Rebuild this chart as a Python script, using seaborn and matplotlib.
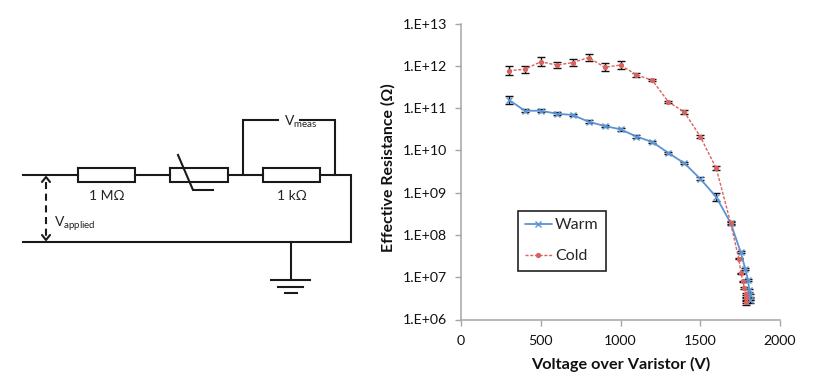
import numpy as np
import pandas as pd
import matplotlib
matplotlib.use('Agg')
import matplotlib.pyplot as plt
import seaborn as sns

sns.set_theme(style='white')
plt.rcParams['font.family'] = ['Lato', 'DejaVu Sans']
plt.rcParams['mathtext.default'] = 'regular'

warm_v = [300, 400, 500, 600, 700, 800, 900, 1000, 1100, 1200, 1300, 1400, 1500, 1600,
          1691, 1753, 1783, 1799, 1808, 1810, 1812, 1812]
warm_log = [11.20, 10.94, 10.94, 10.87, 10.84, 10.68, 10.58, 10.50, 10.33, 10.20, 9.94, 9.70, 9.33, 8.90,
            8.28, 7.60, 7.19, 6.94, 6.69, 6.57, 6.49, 6.42]
warm_err = [0.10, 0.04, 0.04, 0.03, 0.03, 0.03, 0.03, 0.03, 0.03, 0.03, 0.03, 0.03, 0.04, 0.10,
            0.03, 0.03, 0.03, 0.03, 0.03, 0.03, 0.03, 0.03]

cold_v = [300, 400, 500, 600, 700, 800, 900, 1000, 1100, 1200, 1300, 1400, 1500, 1600,
          1691, 1741, 1756, 1768, 1776, 1785, 1787, 1788, 1788]
cold_log = [11.89, 11.92, 12.10, 12.02, 12.08, 12.20, 11.97, 12.02, 11.79, 11.66, 11.15, 10.91, 10.33, 9.58,
            8.28, 7.44, 7.09, 6.90, 6.75, 6.60, 6.52, 6.45, 6.37]
cold_err = [0.11, 0.09, 0.11, 0.08, 0.08, 0.08, 0.09, 0.09, 0.05, 0.02, 0.03, 0.05, 0.03, 0.05,
            0.05, 0.02, 0.02, 0.02, 0.02, 0.02, 0.02, 0.02, 0.02]

x_ticks = [0, 500, 1000, 1500, 2000]
y_ticks = [1e6, 1e7, 1e8, 1e9, 1e10, 1e11, 1e12, 1e13]
y_labels = ['1.E+06', '1.E+07', '1.E+08', '1.E+09', '1.E+10', '1.E+11', '1.E+12', '1.E+13']

W, H = 814, 392
fig = plt.figure(figsize=(W / 100, H / 100), dpi=100)

# chart on the right
ax = fig.add_axes([461 / W, 1 - 319.5 / H, (780 - 461) / W, (319.5 - 23.7) / H])

warm = pd.DataFrame({'v': warm_v, 'r': 10.0 ** np.array(warm_log), 'e': warm_err})
cold = pd.DataFrame({'v': cold_v, 'r': 10.0 ** np.array(cold_log), 'e': cold_err})

warm_col = '#5b93d3'
cold_col = '#d9625e'

for d in [warm, cold]:
    low = d['r'] - d['r'] / 10.0 ** d['e']
    up = d['r'] * 10.0 ** d['e'] - d['r']
    ax.errorbar(d['v'], d['r'], yerr=[low, up], fmt='none', ecolor='#111111',
                elinewidth=1.0, capsize=3, capthick=1.0, zorder=2)

sns.lineplot(data=warm, x='v', y='r', ax=ax, color=warm_col, lw=1.3, marker='x', ms=4,
             mew=1.0, mec=warm_col, label='Warm', zorder=3, sort=False, errorbar=None)
sns.lineplot(data=cold, x='v', y='r', ax=ax, color=cold_col, lw=1.0, ls=(0, (2.2, 1.2)), marker='o', ms=3.8,
             mew=0, mec=cold_col, label='Cold', zorder=4, sort=False, errorbar=None)

ax.set_yscale('log')
ax.set_xlim(0, 2000)
ax.set_ylim(1e6, 1e13)
ax.set_xticks(x_ticks)
ax.set_yticks(y_ticks)
ax.set_yticklabels(y_labels)
ax.minorticks_off()
ax.tick_params(axis='both', length=4, width=1, color='#a6a6a6', labelsize=10.2, labelcolor='#111111',
               bottom=True, left=True)
ax.tick_params(axis='x', pad=7)
ax.tick_params(axis='y', pad=6)
sns.despine(ax=ax)
for s in ['left', 'bottom']:
    ax.spines[s].set_color('#a6a6a6')
    ax.spines[s].set_linewidth(1.1)
ax.set_xlabel('Voltage over Varistor (V)', fontsize=11.7, fontweight='bold', color='#111111', labelpad=7)
ax.set_ylabel('Effective Resistance (Ω)', fontsize=11.4, fontweight='bold', color='#111111', labelpad=5, y=0.514)

leg = ax.legend(loc='lower left', bbox_to_anchor=((517.5 - 461) / 319, (319.5 - 270.5) / 295.8),
                frameon=True, fancybox=False, edgecolor='#222222', framealpha=1, fontsize=11.5,
                borderaxespad=0, handlelength=1.7, handletextpad=0.2, labelspacing=1.05,
                borderpad=0.45)
leg.get_frame().set_linewidth(1.2)

# circuit on the left, overlay in pixel coordinates
sk = fig.add_axes([0, 0, 1, 1], zorder=-1)
sk.set_xlim(0, W)
sk.set_ylim(H, 0)
sk.axis('off')

wire = dict(color='#1a1a1a', lw=1.5, solid_capstyle='projecting', solid_joinstyle='miter')
wire_paths = [
    ([23, 78], [175, 175]),
    ([135, 170], [175, 175]),
    ([228, 263], [175, 175]),
    ([320, 351, 351, 23], [175, 175, 242, 242]),
    ([243, 243, 278], [175, 120, 120]),
    ([300, 335, 335], [120, 120, 175]),
    ([178, 193, 213], [155, 190, 190]),
    ([291, 291], [242, 280]),
    ([271, 310], [280, 280]),
    ([278, 303], [287, 287]),
    ([285, 297], [293, 293]),
]
for xs, ys in wire_paths:
    sk.plot(xs, ys, **wire)

for x0, x1 in [(78, 135), (170, 228), (263, 320)]:
    sk.plot([x0, x1, x1, x0, x0], [168, 168, 182, 182, 168], **wire)

sk.plot([46, 46], [182, 236], color='#1a1a1a', lw=1.5, ls=(0, (3.4, 2.2)))
sk.plot([42, 46, 50], [182, 177, 182], color='#1a1a1a', lw=1.5)
sk.plot([42, 46, 50], [235, 240, 235], color='#1a1a1a', lw=1.5)

txt = dict(fontsize=10, color='#222222', va='center')
sk.text(107, 196, '1 MΩ', ha='center', **txt)
sk.text(292, 196, '1 kΩ', ha='center', **txt)
sk.text(284, 122, 'V$_{meas}$', ha='left', **txt)
sk.text(54, 224, 'V$_{applied}$', ha='left', **txt)

fig.savefig('out.png', dpi=100)
